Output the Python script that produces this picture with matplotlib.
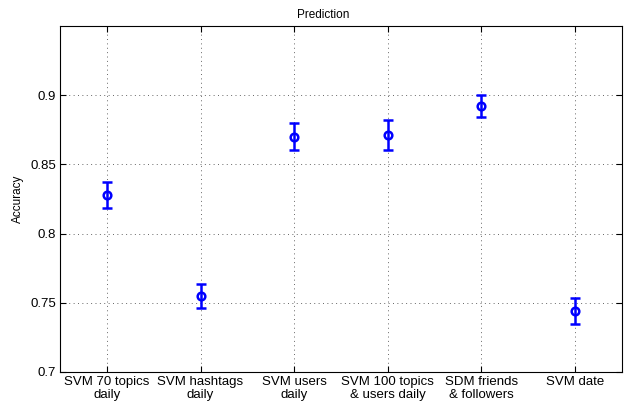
import matplotlib
matplotlib.use("Agg")
import matplotlib.pyplot as plt

# data
labels = ["SVM 70 topics\ndaily", "SVM hashtags\ndaily", "SVM users\ndaily",
          "SVM 100 topics\n& users daily", "SDM friends\n& followers", "SVM date"]
accuracy = [0.828, 0.755, 0.870, 0.871, 0.892, 0.744]
errors = [0.0095, 0.0087, 0.0097, 0.0108, 0.008, 0.0093]

plt.rcParams['font.family'] = ['Liberation Sans', 'DejaVu Sans']
plt.rcParams['font.size'] = 9.5

fig = plt.figure(figsize=(6.24, 4.05), dpi=100)
ax = fig.add_axes([60 / 624, 1 - 372 / 405, 562 / 624, 346 / 405])

x = range(1, len(labels) + 1)
ax.errorbar(x, accuracy, yerr=errors, fmt='o', color='blue', mfc='none',
            mec='blue', ms=5.5, mew=1.8, elinewidth=1.8, capsize=3.3,
            capthick=1.8, ecolor='blue')

ax.set_xlim(0.5, 6.5)
ax.set_ylim(0.7, 0.95)
ax.set_xticks(list(x))
ax.set_xticklabels(labels, linespacing=1.1)
ax.set_yticks([0.7, 0.75, 0.8, 0.85, 0.9])
ax.set_yticklabels(["0.7", "0.75", "0.8", "0.85", "0.9"])
ax.tick_params(direction='in', top=True, right=True, length=4, width=0.8, pad=3)
ax.grid(True, linestyle=(0, (1, 3.5)), color='0.4', linewidth=0.7)
for s in ax.spines.values():
    s.set_linewidth(0.8)

ax.set_ylabel("Accuracy", fontsize=8.5)
ax.yaxis.set_label_coords(-36 / 562, 0.5)
ax.set_title("Prediction", fontsize=8.5, pad=6)
ax.title.set_x((323 - 60) / 562)

fig.savefig("out.png", dpi=100)
